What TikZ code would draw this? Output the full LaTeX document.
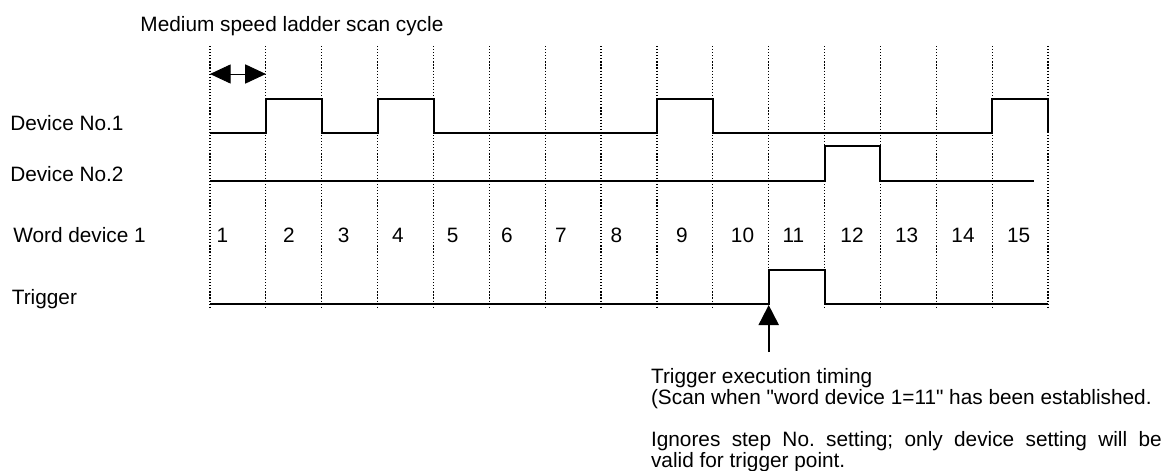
\documentclass[tikz,border=0pt]{standalone}
\usepackage{fontspec}
\setmainfont{Liberation Sans}[Ligatures=TeXOff]
\usetikzlibrary{arrows.meta}
\begin{document}
\begin{tikzpicture}[x=0.75pt,y=-0.75pt,
  lbl/.style={anchor=base west,inner sep=0pt,font=\fontsize{15.6}{15.75}\selectfont},
  num/.style={anchor=base,inner sep=0pt,font=\fontsize{15.6}{15.75}\selectfont},
  gridline/.style={line width=0.9pt,dash pattern=on 0.9pt off 1.4pt},
  sig/.style={line width=1.5pt,line join=miter},
  headA/.style={line width=0.75pt,{Triangle[width=14.3pt,length=15.5pt]}-{Triangle[width=14.3pt,length=15.5pt]}},
  headB/.style={line width=1.5pt,-{Triangle[width=15pt,length=15pt]}},
]
\useasboundingbox (0,0) rectangle (1168,471);
% scan-cycle grid
\foreach \k in {0,...,15} { \draw[gridline] ({210+55.87*\k},46) -- ({210+55.87*\k},307); }
% cycle width arrow
\coordinate (cycA) at (210,74);
\coordinate (cycB) at (265.9,74);
\draw[headA] (cycA) -- (cycB);
% labels
\node[lbl] (title) at (140.2,31.7) {Medium speed ladder scan cycle};
\node[lbl] (d1) at (10,130) {Device No.1};
\node[lbl] (d2) at (10,181) {Device No.2};
\node[lbl] (wd) at (13,242.7) {Word device 1};
\node[lbl] (tr) at (11.6,304) {Trigger};
% device 1
\draw[sig] (210,133) -- (265.9,133) -- (265.9,99) -- (321.7,99) -- (321.7,133) -- (377.6,133) -- (377.6,99) -- (433.5,99) -- (433.5,133) -- (657,133) -- (657,99) -- (712.8,99) -- (712.8,133) -- (992.2,133) -- (992.2,99) -- (1048,99) -- (1048,133);
% device 2
\draw[sig] (210,181) -- (824.6,181) -- (824.6,146) -- (880.4,146) -- (880.4,181) -- (1034,181);
% trigger
\draw[sig] (210,304) -- (768.7,304) -- (768.7,270) -- (824.6,270) -- (824.6,304) -- (1048,304);
% word device numbers
\node[num] (n1) at (222.5,242.7) {1};
\node[num] (n2) at (289,242.7) {2};
\node[num] (n3) at (343.7,242.7) {3};
\node[num] (n4) at (398,242.7) {4};
\node[num] (n5) at (452.6,242.7) {5};
\node[num] (n6) at (507,242.7) {6};
\node[num] (n7) at (561,242.7) {7};
\node[num] (n8) at (616.5,242.7) {8};
\node[num] (n9) at (682,242.7) {9};
\node[num] (n10) at (742.5,242.7) {10};
\node[num] (n11) at (793.5,242.7) {11};
\node[num] (n12) at (852,242.7) {12};
\node[num] (n13) at (906.7,242.7) {13};
\node[num] (n14) at (963,242.7) {14};
\node[num] (n15) at (1018.7,242.7) {15};
% trigger arrow
\coordinate (tipT) at (768.7,305);
\coordinate (tailT) at (768.7,352);
\draw[headB] (tailT) -- (tipT);
% explanation
\node[lbl] (e1) at (650.8,383) {Trigger execution timing};
\node[lbl] (e2) at (650.8,404) {(Scan when "word device 1=11" has been established.};
\node[lbl] (e3) at (650.8,446) {\hbox to 383pt{Ignores\hfill step\hfill No.\hfill setting;\hfill only\hfill device\hfill setting\hfill will\hfill be}};
\node[lbl] (e4) at (650.8,467.7) {valid for trigger point.};
\end{tikzpicture}
\end{document}
